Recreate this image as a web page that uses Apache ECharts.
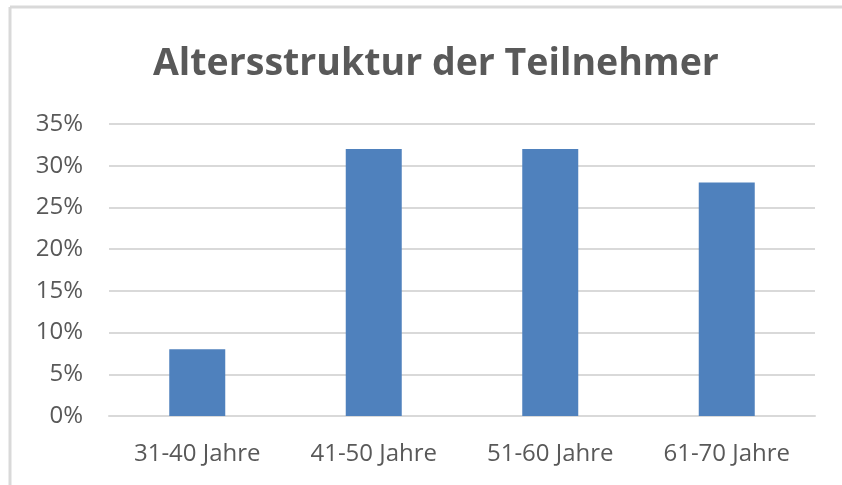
<!DOCTYPE html>
<html style="height: 100%">
<head>
<meta charset="utf-8">
<script src="https://cdn.jsdelivr.net/npm/echarts@6/dist/echarts.min.js"></script>
</head>
<body style="height: 100%; margin: 0; background: #fff">
<div id="container" style="width: 842px; height: 485px"></div>
<script type="text/javascript">
    var categories = ['31-40 Jahre', '41-50 Jahre', '51-60 Jahre', '61-70 Jahre'];
    var shares = [8, 32, 32, 28];
    var yTicks = { min: 0, max: 35, step: 5 };

    var myChart = echarts.init(document.getElementById('container'));
    var font = 'Open Sans';
    var option = {
        animation: false,
        title: {
            text: 'Altersstruktur der Teilnehmer',
            left: 148,
            top: 40,
            textStyle: { color: '#595959', fontSize: 37.5, fontWeight: 'bold', fontFamily: font }
        },
        graphic: [
            { type: 'line', shape: { x1: 10, y1: 7, x2: 842, y2: 7 }, style: { stroke: '#d9d9d9', lineWidth: 3 } },
            { type: 'line', shape: { x1: 10, y1: 7, x2: 10, y2: 485 }, style: { stroke: '#d9d9d9', lineWidth: 3 } }
        ],
        grid: { left: 109, right: 27, top: 124, bottom: 69 },
        xAxis: {
            type: 'category',
            data: categories,
            axisLine: { lineStyle: { color: '#d9d9d9', width: 2 } },
            axisTick: { show: false },
            axisLabel: { color: '#595959', fontSize: 24, fontFamily: font, margin: 26 }
        },
        yAxis: {
            type: 'value',
            min: yTicks.min,
            max: yTicks.max,
            interval: yTicks.step,
            axisLine: { show: false },
            axisTick: { show: false },
            splitLine: { lineStyle: { color: '#d9d9d9', width: 2 } },
            axisLabel: { color: '#595959', fontSize: 24, fontFamily: font, margin: 26, formatter: '{value}%' }
        },
        series: [{
            type: 'bar',
            data: shares,
            barWidth: 56,
            itemStyle: { color: '#4f81bd' }
        }]
    };
    myChart.setOption(option);
</script>
</body>
</html>
